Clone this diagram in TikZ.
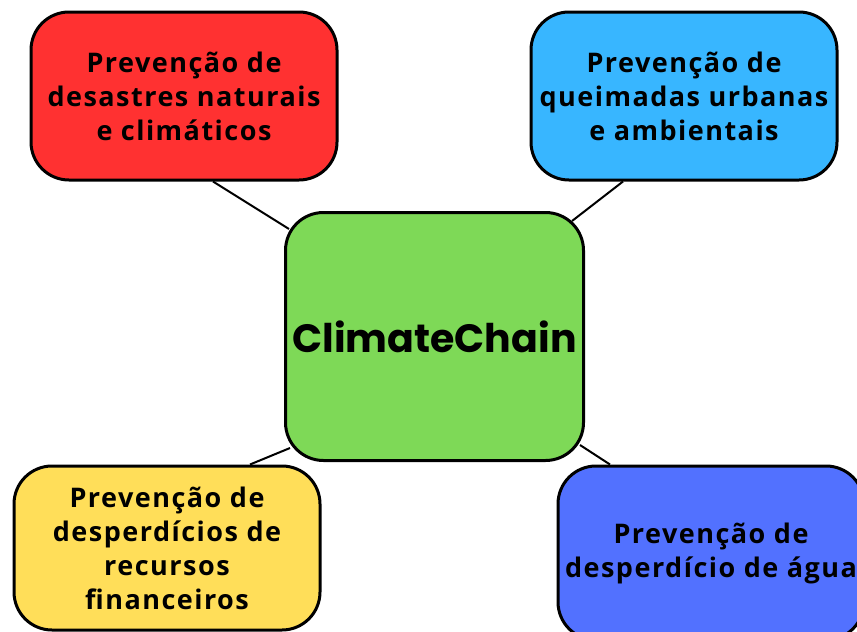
\documentclass[tikz,border=0pt]{standalone}
\usepackage{fontspec}
\setmainfont{Open Sans}
\newfontfamily\titlefont{Poppins}
\usepackage{tikz}
\usetikzlibrary{positioning,backgrounds}
\definecolor{disasterred}{HTML}{FF3131}
\definecolor{fireblue}{HTML}{38B6FF}
\definecolor{hubgreen}{HTML}{7ED957}
\definecolor{moneyyellow}{HTML}{FFDE59}
\definecolor{waterblue}{HTML}{5271FF}
\tikzstyle{topic} = [rectangle, rounded corners=38pt, minimum width=306pt, minimum height=168pt, text centered, align=center, draw=black, line width=3pt, font=\fontsize{27}{34}\selectfont\bfseries\addfontfeature{LetterSpace=5.5}]
\tikzstyle{hub} = [topic, minimum width=298pt, minimum height=248pt, font=\titlefont\bfseries\fontsize{39.5}{40}\selectfont]
\tikzstyle{link} = [draw=black, line width=2pt]

\begin{document}
\begin{tikzpicture}[x=1pt, y=-1pt]
\useasboundingbox (0,0) rectangle (857,632);
\clip (0,0) rectangle (857,632);

\node (climatechain) [hub, fill=hubgreen] at (434.5,336.5) {ClimateChain};

\node (disasters) [topic, fill=disasterred] at (184,96) {Prevenção de\\desastres naturais\\e climáticos};
\node (fires) [topic, fill=fireblue] at (684,96) {Prevenção de\\queimadas urbanas\\e ambientais};
\node (finance) [topic, fill=moneyyellow, minimum height=164pt] at (167,548) {Prevenção de\\desperdícios de\\recursos\\financeiros};
\node (water) [topic, fill=waterblue, minimum height=174pt] at (711,553) {Prevenção de\\desperdício de água};

% connectors behind the boxes
\begin{scope}[on background layer]
\draw [link] ([xshift=29pt]disasters.south) -- ([xshift=5pt,yshift=-18pt]climatechain.north west);
\draw [link] ([xshift=-61pt]fires.south) -- ([xshift=-13pt,yshift=-10pt]climatechain.north east);
\draw [link] ([xshift=83pt]finance.north) -- ([xshift=6pt,yshift=14pt]climatechain.south west);
\draw [link] ([xshift=-5pt,yshift=17pt]climatechain.south east) -- ([xshift=-101pt]water.north);
\end{scope}
\end{tikzpicture}
\end{document}
